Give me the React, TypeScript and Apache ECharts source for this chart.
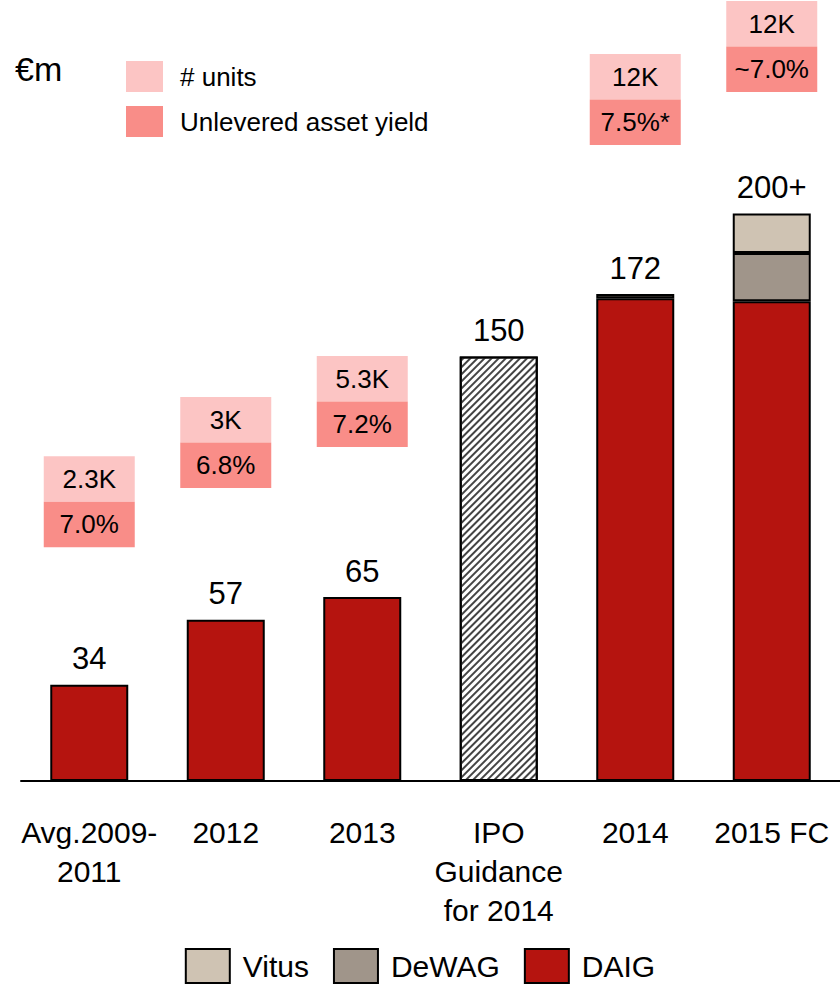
import React, { useEffect, useRef } from "react";
import * as echarts from "echarts";

const categories = ["Avg.2009-\n2011", "2012", "2013", "IPO\nGuidance\nfor 2014", "2014", "2015 FC"];
const daig = [34, 57, 65, null, 170.5, 169.5];
const dewag = [null, null, null, null, 1.5, 17];
const vitus = [null, null, null, null, null, 14];
const ipoGuidance = [null, null, null, 150, null, null];
const totalLabels = ["34", "57", "65", "150", "172", "200+"];
// annotation boxes: category index, anchor level (value units), units text, yield text
const boxCategory = [0, 1, 2, 4, 5];
const boxLevel = [82.6, 103.5, 118, 224.7, 243.4];
const boxUnits = ["2.3K", "3K", "5.3K", "12K", "12K"];
const boxYield = ["7.0%", "6.8%", "7.2%", "7.5%*", "~7.0%"];

const FONT = "'Liberation Sans', Arial, sans-serif";
const C_DAIG = "#b5140f";
const C_DEWAG = "#a0958a";
const C_VITUS = "#cfc3b3";
const C_UNITS = "#fcc5c4";
const C_YIELD = "#f98d88";

export default function App() {
  const ref = useRef<HTMLDivElement>(null);
  useEffect(() => {
    document.body.style.margin = "0";
    const chart = echarts.init(ref.current!, null, { renderer: "svg" });
    const totals = categories.map((_, i) =>
      [daig[i], dewag[i], vitus[i], ipoGuidance[i]].reduce((s: number, v) => s + (v == null ? 0 : (v as number)), 0)
    );
    const barBase = {
      type: "bar",
      stack: "a",
      barWidth: 78,
      z: 3,
    };
    const option: any = {
      animation: false,
      textStyle: { fontFamily: FONT },
      grid: { left: 21, width: 822, top: 45, bottom: 203 },
      xAxis: {
        type: "category",
        data: categories,
        axisLine: { lineStyle: { color: "#000", width: 2 } },
        axisTick: { show: false },
        axisLabel: { fontSize: 30, lineHeight: 39, color: "#000", margin: 32, fontFamily: FONT, interval: 0 },
      },
      yAxis: { type: "value", min: 0, max: 260, show: false, splitLine: { show: false } },
      legend: {
        data: ["Vitus", "DeWAG", "DAIG"],
        left: "center",
        top: 948,
        padding: 0,
        itemWidth: 44,
        itemHeight: 34,
        itemGap: 24,
        icon: "rect",
        textStyle: { fontSize: 30, lineHeight: 32, color: "#000", fontFamily: FONT, padding: [0, 0, 0, 8] },
      },
      graphic: [
        { type: "text", left: 15, top: 52, style: { text: "€m", font: `34px ${FONT}`, fill: "#000" } },
        { type: "rect", shape: { x: 126, y: 61, width: 37, height: 31 }, style: { fill: C_UNITS } },
        { type: "rect", shape: { x: 126, y: 106, width: 37, height: 31 }, style: { fill: C_YIELD } },
        { type: "text", x: 180, y: 77, style: { text: "# units", font: `26px ${FONT}`, fill: "#000", verticalAlign: "middle" } },
        { type: "text", x: 180, y: 122, style: { text: "Unlevered asset yield", font: `26px ${FONT}`, fill: "#000", verticalAlign: "middle" } },
      ],
      series: [
        { ...barBase, name: "DAIG", data: daig, itemStyle: { color: C_DAIG, borderColor: "#000", borderWidth: 2 } },
        { ...barBase, name: "DeWAG", data: dewag, itemStyle: { color: C_DEWAG, borderColor: "#000", borderWidth: 2 } },
        { ...barBase, name: "Vitus", data: vitus, itemStyle: { color: C_VITUS, borderColor: "#000", borderWidth: 2 } },
        {
          ...barBase,
          name: "IPO",
          data: ipoGuidance,
          itemStyle: {
            color: "#ffffff",
            borderColor: "#000",
            borderWidth: 2,
            decal: {
              symbol: "rect",
              symbolSize: 1,
              dashArrayX: [[1, 0]],
              dashArrayY: [2, 3],
              rotation: -Math.PI / 4,
              color: "#444",
              backgroundColor: "#ffffff",
            },
          },
        },
        {
          type: "scatter",
          name: "totals",
          data: totals,
          symbolSize: 1,
          itemStyle: { color: "rgba(0,0,0,0)", opacity: 1 },
          z: 5,
          label: {
            show: true,
            position: "top",
            distance: 10,
            fontSize: 31,
            color: "#000",
            opacity: 1,
            fontFamily: FONT,
            formatter: (p: any) => totalLabels[p.dataIndex],
          },
        },
        {
          type: "custom",
          name: "boxes",
          clip: false,
          z: 6,
          data: boxCategory.map((c, i) => [c, boxLevel[i], i]),
          encode: { x: 0, y: 1 },
          renderItem: (params: any, api: any) => {
            const i = api.value(2);
            const pt = api.coord([api.value(0), api.value(1)]);
            const w = 91;
            const h = 45.5;
            const x0 = pt[0] - w / 2;
            return {
              type: "group",
              children: [
                { type: "rect", shape: { x: x0, y: pt[1] - 2 * h, width: w, height: h }, style: { fill: C_UNITS } },
                { type: "rect", shape: { x: x0, y: pt[1] - h, width: w, height: h }, style: { fill: C_YIELD } },
                {
                  type: "text",
                  style: { text: boxUnits[i], x: pt[0], y: pt[1] - 1.5 * h, align: "center", verticalAlign: "middle", font: `26px ${FONT}`, fill: "#000" },
                },
                {
                  type: "text",
                  style: { text: boxYield[i], x: pt[0], y: pt[1] - 0.5 * h, align: "center", verticalAlign: "middle", font: `26px ${FONT}`, fill: "#000" },
                },
              ],
            };
          },
        },
      ],
    };
    chart.setOption(option);
    return () => chart.dispose();
  }, []);
  return <div ref={ref} style={{ width: 840, height: 984 }} />;
}
